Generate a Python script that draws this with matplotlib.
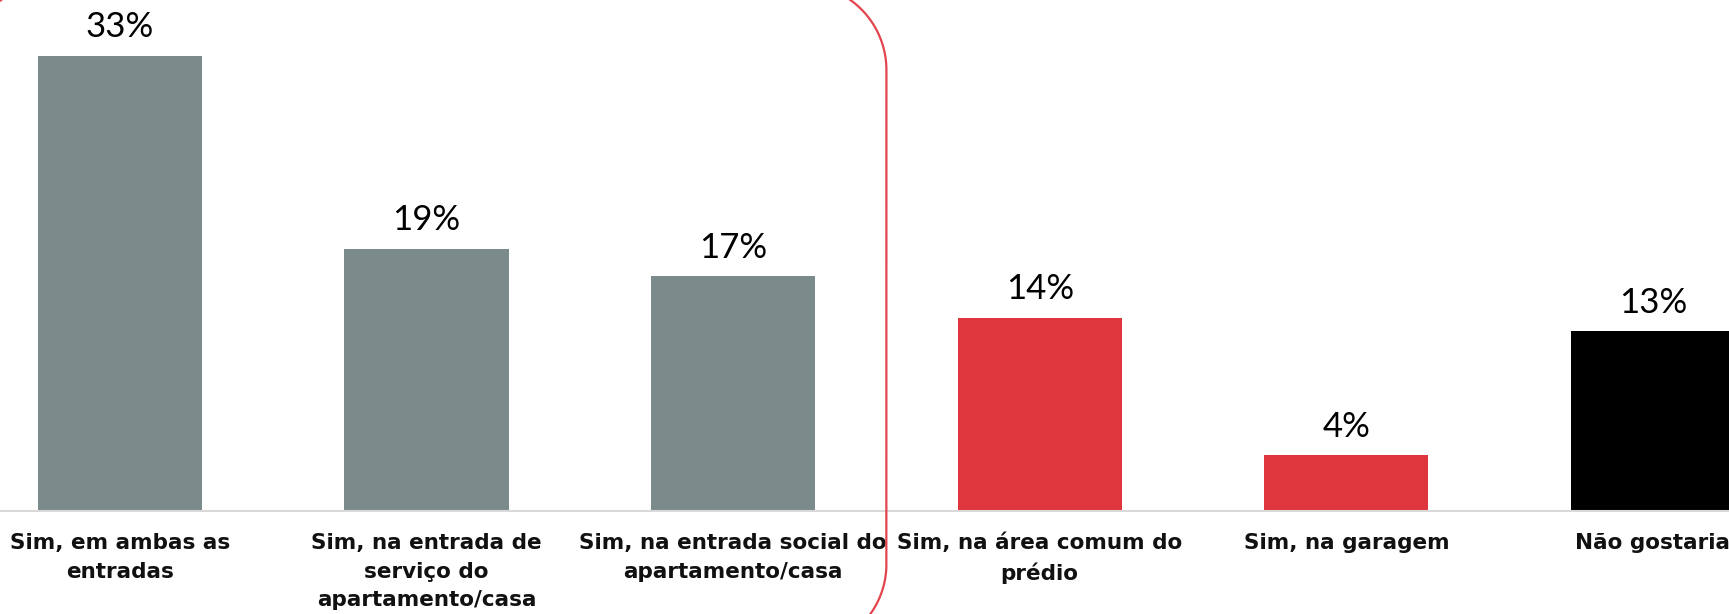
import matplotlib
matplotlib.use("Agg")
import numpy as np
import matplotlib.pyplot as plt
from matplotlib.lines import Line2D

categories = [
    "Sim, em ambas as\nentradas",
    "Sim, na entrada de\nserviço do\napartamento/casa",
    "Sim, na entrada social do\napartamento/casa",
    "Sim, na área comum do\nprédio",
    "Sim, na garagem",
    "Não gostaria",
]
values = [33, 19, 17, 14, 4, 13]
value_labels = ["33%", "19%", "17%", "14%", "4%", "13%"]
colors = ["#7b8b8c", "#7b8b8c", "#7b8b8c", "#df353d", "#df353d", "#000000"]

DPI = 100
fig = plt.figure(figsize=(17.29, 6.14), dpi=DPI)
ax = fig.add_axes([0, 103.5 / 614, 1, 1 - 103.5 / 614])

x = list(range(len(values)))
ax.bar(x, values, width=0.535, color=colors, zorder=2)

ax.set_xlim(-0.391, 5.248)
ax.set_ylim(0, 37.06)

for xi, v, lab in zip(x, values, value_labels):
    ax.annotate(lab, (xi, v), xytext=(0, 9), textcoords="offset points",
                ha="center", va="bottom", fontsize=25, family="Lato",
                fontweight="normal", color="#000000")

for s in ["left", "right", "top"]:
    ax.spines[s].set_visible(False)
ax.spines["bottom"].set_color("#d9d9d9")
ax.spines["bottom"].set_linewidth(1.5)
ax.set_yticks([])
ax.set_xticks(x)
ax.set_xticklabels(categories, fontsize=15.5, family="DejaVu Sans", fontweight="bold",
                   color="#111111", linespacing=1.55)
ax.tick_params(axis="x", length=0, pad=16)

# rounded red frame around the first three categories (pixel units, then inches)
fig.canvas.draw()
xr = ax.transData.transform((2.5, 0))[0]
x0, x1 = -35.0, xr
y0, y1 = -36.0, 630.0
r = 86.0
t = np.linspace(0, np.pi / 2, 40)
px, py = [], []
cx, cy = x1 - r, y1 - r
px += list(cx + r * np.sin(t)); py += list(cy + r * np.cos(t))
cx, cy = x1 - r, y0 + r
px += list(cx + r * np.cos(t)); py += list(cy - r * np.sin(t))
cx, cy = x0 + r, y0 + r
px += list(cx - r * np.sin(t)); py += list(cy - r * np.cos(t))
cx, cy = x0 + r, y1 - r
px += list(cx - r * np.cos(t)); py += list(cy + r * np.sin(t))
px.append(px[0]); py.append(py[0])
frame = Line2D(np.array(px) / DPI, np.array(py) / DPI, transform=fig.dpi_scale_trans,
               color="#e2454d", linewidth=1.6, clip_on=False)
fig.add_artist(frame)

fig.savefig("out.png", dpi=DPI, facecolor="white")
